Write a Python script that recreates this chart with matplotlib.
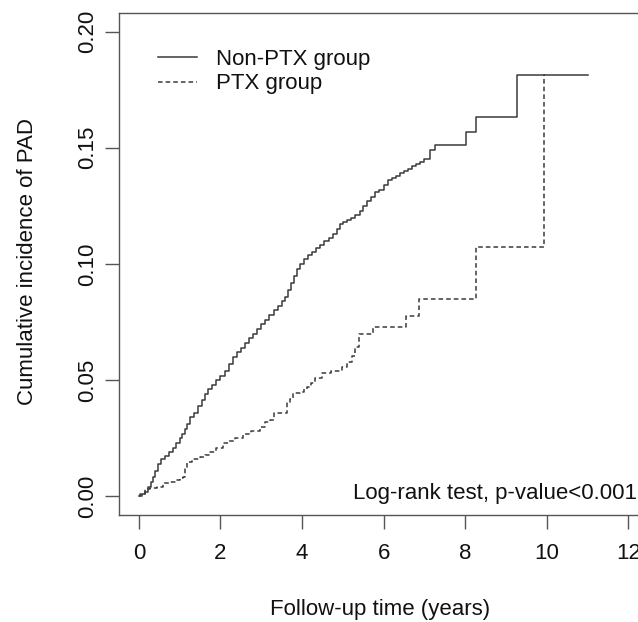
import matplotlib
matplotlib.use("Agg")
import matplotlib.pyplot as plt

# ---- data ----
nonptx_time = [0, 0.08, 0.15, 0.22, 0.30, 0.35, 0.40, 0.47, 0.55, 0.65, 0.75, 0.84, 0.92, 1.00,
               1.05, 1.12, 1.18, 1.25, 1.35, 1.45, 1.54, 1.62, 1.70, 1.80, 1.90, 2.00, 2.10,
               2.20, 2.30, 2.40, 2.50, 2.60, 2.70, 2.80, 2.90, 3.00, 3.10, 3.20, 3.30, 3.40,
               3.50, 3.58, 3.65, 3.72, 3.80, 3.87, 3.95, 4.05, 4.15, 4.25, 4.35, 4.45, 4.55,
               4.65, 4.75, 4.85, 4.93, 5.00, 5.10, 5.20, 5.30, 5.42, 5.50, 5.60, 5.70, 5.78,
               5.88, 6.00, 6.10, 6.20, 6.30, 6.40, 6.50, 6.60, 6.70, 6.80, 6.90, 7.00, 7.13,
               7.25, 8.03, 8.26, 9.26, 11.01]
nonptx_cif = [0, 0.001, 0.002, 0.004, 0.006, 0.0085, 0.011, 0.014, 0.016, 0.0175, 0.019, 0.021,
              0.023, 0.025, 0.027, 0.029, 0.031, 0.034, 0.036, 0.039, 0.0415, 0.044, 0.046,
              0.048, 0.050, 0.052, 0.054, 0.057, 0.060, 0.062, 0.064, 0.066, 0.068, 0.070,
              0.072, 0.074, 0.076, 0.078, 0.080, 0.082, 0.084, 0.086, 0.089, 0.092, 0.095,
              0.098, 0.100, 0.102, 0.104, 0.105, 0.107, 0.108, 0.110, 0.111, 0.113, 0.115,
              0.117, 0.118, 0.119, 0.120, 0.121, 0.123, 0.125, 0.127, 0.129, 0.131, 0.132,
              0.134, 0.136, 0.137, 0.138, 0.139, 0.140, 0.141, 0.142, 0.143, 0.144, 0.145,
              0.149, 0.151, 0.157, 0.1634, 0.1813, 0.1813]

ptx_time = [0, 0.02, 0.15, 0.27, 0.45, 0.60, 0.75, 0.90, 1.00, 1.09, 1.12, 1.17, 1.30, 1.50,
            1.62, 1.74, 1.90, 2.07, 2.20, 2.35, 2.56, 2.75, 2.97, 3.10, 3.21, 3.30, 3.54,
            3.62, 3.70, 3.78, 3.94, 4.05, 4.12, 4.22, 4.31, 4.49, 4.70, 4.97, 5.10, 5.22,
            5.30, 5.40, 5.74, 6.54, 6.87, 8.26, 9.93, 9.95]
ptx_cif = [0, 0.001, 0.003, 0.0035, 0.004, 0.0056, 0.006, 0.007, 0.008, 0.0085, 0.012, 0.015,
           0.016, 0.017, 0.018, 0.019, 0.021, 0.0228, 0.024, 0.025, 0.027, 0.028, 0.030,
           0.032, 0.033, 0.0358, 0.0358, 0.040, 0.042, 0.0444, 0.045, 0.046, 0.0472, 0.049,
           0.051, 0.0532, 0.054, 0.0557, 0.058, 0.0604, 0.0644, 0.0697, 0.073, 0.0778,
           0.0849, 0.1072, 0.1813, 0.1813]

group_labels = ["Non-PTX group", "PTX group"]
x_ticks = [0, 2, 4, 6, 8, 10, 12]
y_ticks = [0.00, 0.05, 0.10, 0.15, 0.20]
y_tick_labels = ["0.00", "0.05", "0.10", "0.15", "0.20"]

plt.rcParams['font.family'] = ['Liberation Sans', 'DejaVu Sans']
FS = 16

W, H = 638, 622
fig = plt.figure(figsize=(W / 100, H / 100), dpi=100)
left, right, top, bottom = 119.3, 648.0, 13.0, 515.0
aw, ah = right - left, bottom - top
ax = fig.add_axes([left / W, (H - bottom) / H, aw / W, ah / H])
ax.set_xlim(-0.48, 12.48)
ax.set_ylim(-0.008, 0.208)

line_col = '#3a3a3a'
ax.plot(nonptx_time, nonptx_cif, drawstyle='steps-post', color=line_col, lw=1.1,
        label=group_labels[0])
ax.plot(ptx_time, ptx_cif, drawstyle='steps-post', color=line_col, lw=1.1,
        linestyle=(0, (3, 2)), label=group_labels[1])

for s in ax.spines.values():
    s.set_color('#555555')
    s.set_linewidth(1.0)

ax.set_xticks(x_ticks)
ax.set_xticklabels([str(t) for t in x_ticks])
ax.set_yticks(y_ticks)
ax.set_yticklabels(y_tick_labels, rotation=90, va='center')
ax.tick_params(axis='both', direction='out', length=10, width=1.0, color='#555555',
               labelsize=FS, labelcolor='#111111')
ax.tick_params(axis='x', pad=10)
ax.tick_params(axis='y', pad=5)

ax.set_xlabel("Follow-up time (years)", fontsize=FS, color='#111111')
ax.set_ylabel("Cumulative incidence of PAD", fontsize=FS, color='#111111')
ax.xaxis.set_label_coords((380 - left) / aw, -(609 - bottom) / ah)
ax.xaxis.label.set_verticalalignment('center')
ax.yaxis.set_label_coords((28 - left) / aw, (bottom - 262) / ah)
ax.yaxis.label.set_verticalalignment('center')

leg = ax.legend(loc='upper left', bbox_to_anchor=(147 / W, 1 - 38 / H),
                bbox_transform=fig.transFigure, frameon=False, fontsize=FS,
                handlelength=1.75, handletextpad=0.85, labelspacing=0.15, borderpad=0)
for t in leg.get_texts():
    t.set_color('#111111')

fig.text(353 / W, 1 - 493 / H, "Log-rank test, p-value<0.001", fontsize=FS,
         ha='left', va='center', color='#111111')

fig.savefig("out.png", dpi=100)
